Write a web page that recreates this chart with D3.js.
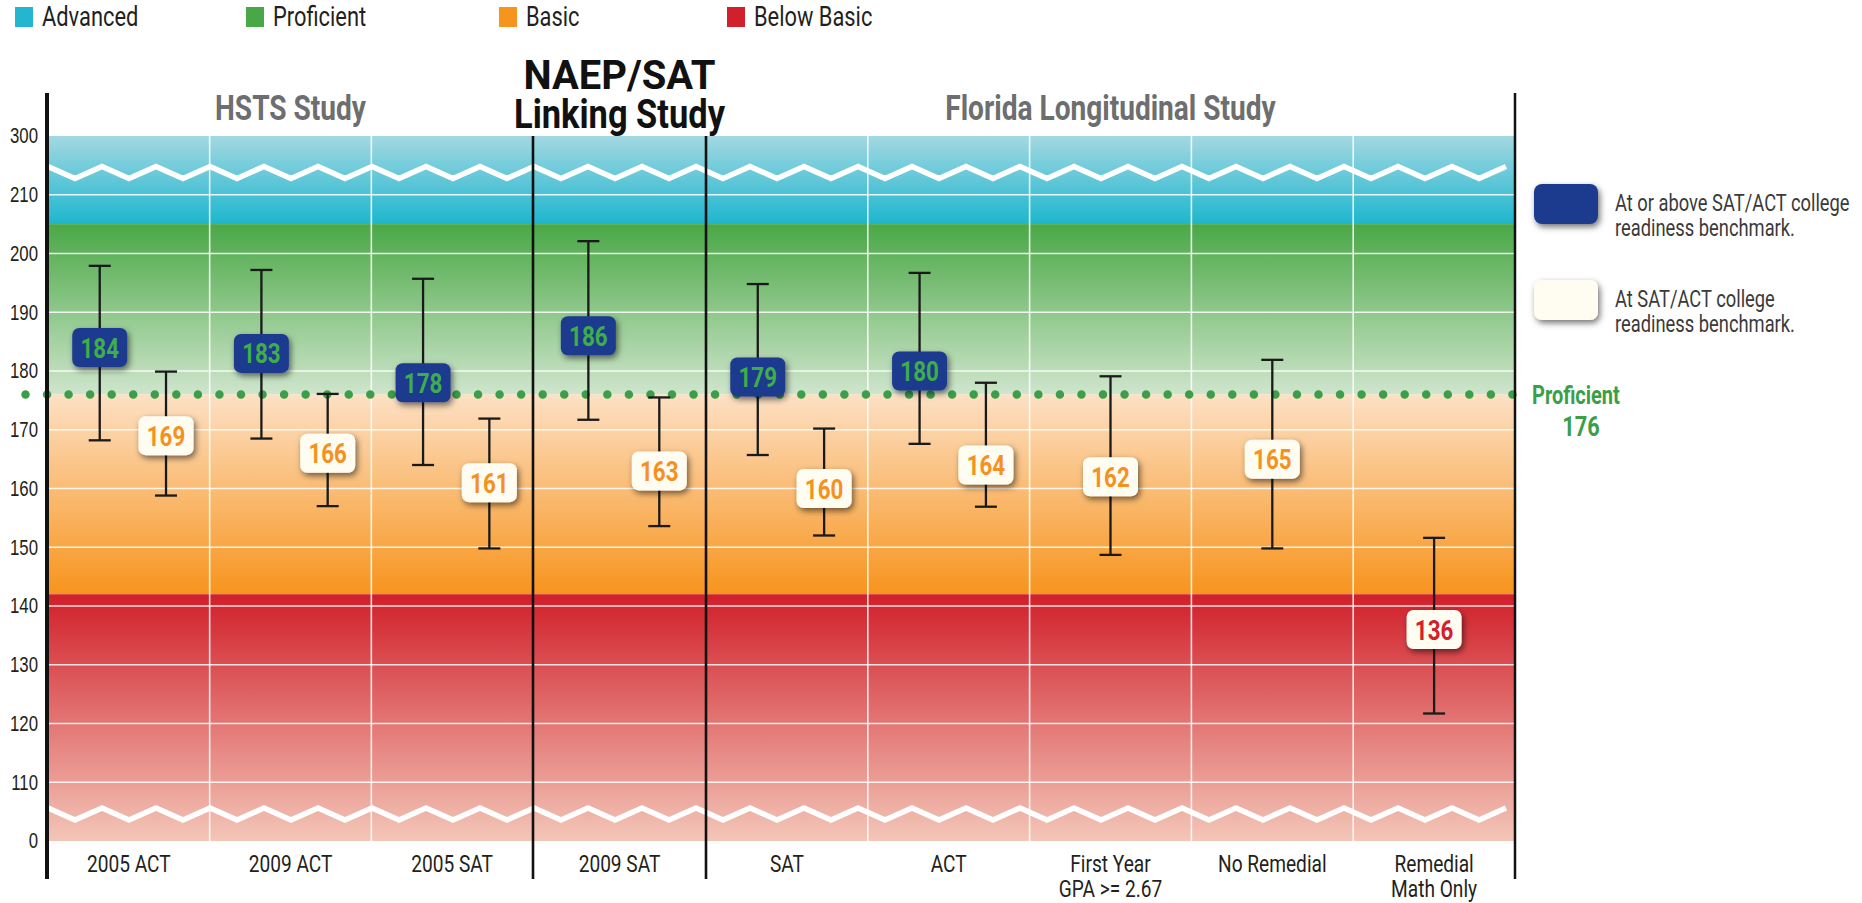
<!DOCTYPE html>
<html><head><meta charset="utf-8">
<script src="https://cdn.jsdelivr.net/npm/d3@7/dist/d3.min.js"></script>
<style>
body{margin:0;background:#fff;}
svg{display:block;font-family:Roboto,"Noto Sans",sans-serif;}
</style></head><body>
<svg id="chart" width="1862" height="903"></svg>
<script>
// ---------------- data ----------------
const categories = ["2005 ACT","2009 ACT","2005 SAT","2009 SAT","SAT","ACT","First Year|GPA >= 2.67","No Remedial","Remedial|Math Only"];
const groupTitles = [["HSTS Study"],["NAEP/SAT","Linking Study"],["Florida Longitudinal Study"]];
const groupFirst = [0,3,4];
const groupLast  = [3,4,9];

// at or above benchmark (navy boxes)
const aboveCats = ["2005 ACT","2009 ACT","2005 SAT","2009 SAT","SAT","ACT"];
const aboveVals = [184,183,178,186,179,180];
const aboveLow  = [168.2,168.5,164.0,171.7,165.7,167.6];
const aboveHigh = [197.9,197.2,195.7,202.1,194.8,196.7];

// at benchmark (cream boxes)
const atCats = ["2005 ACT","2009 ACT","2005 SAT","2009 SAT","SAT","ACT","First Year|GPA >= 2.67","No Remedial","Remedial|Math Only"];
const atVals = [169,166,161,163,160,164,162,165,136];
const atLow  = [158.8,157.0,149.8,153.6,152.0,156.9,148.7,149.8,121.7];
const atHigh = [179.9,176.1,171.9,175.5,170.2,178.0,179.1,181.9,151.6];

// achievement level bands
const levelNames = ["Advanced","Proficient","Basic","Below Basic"];
const levelLow   = [205,176,142,100];
const levelHigh  = [220,205,176,142];

const proficientCut = 176;
const tickVals   = [100,110,120,130,140,150,160,170,180,190,200,210,220];
const tickLabels = ["0","110","120","130","140","150","160","170","180","190","200","210","300"];
const breakVals  = [213.8,104.6];

// ---------------- styles ----------------
const levelSwatch = ["#22b6cf","#47a845","#f7941d","#d21f2c"];
const levelTop    = ["#a3d8e2","#4aa846","#fde0c4","#d11f2a"];
const levelBottom = ["#1db6cd","#cfe5cc","#f7941d","#f3c6b8"];
const navy = "#1c3b8e", boxGreen = "#3fae4a", cream = "#fffdf2", boxOrange = "#f6901e", boxRed = "#d3202c";
const dotGreen = "#3b9e48";
const SX = 0.78; // horizontal condensing of type

const svg = d3.select("#chart");
const plotL = 48, plotR = 1515, plotT = 136, plotB = 841;

const x = d3.scaleLinear().domain([0,3,4,9]).range([plotL,533,706,plotR]);
const y = d3.scaleLinear().domain([100,220]).range([plotB,plotT]);
const catIndex = new Map(categories.map((c,i)=>[c,i]));

// condensed text helper
function ctext(parent, tx, ty, lines, o) {
  const t = parent.append("text")
    .attr("transform",`translate(${tx},${ty}) scale(${o.sx||SX},1)`)
    .attr("font-size",o.size).attr("fill",o.fill||"#231f20")
    .attr("text-anchor",o.anchor||"start");
  if (o.bold) t.attr("font-weight","bold");
  [].concat(lines).forEach((l,j)=>t.append("tspan").attr("x",0).attr("y",j*(o.lh||0)).text(l));
  return t;
}

const defs = svg.append("defs");
levelNames.forEach((n,i)=>{
  const g = defs.append("linearGradient").attr("id","lg"+i)
    .attr("gradientUnits","userSpaceOnUse")
    .attr("x1",0).attr("x2",0).attr("y1",y(levelHigh[i])).attr("y2",y(levelLow[i]));
  g.append("stop").attr("offset","0%").attr("stop-color",levelTop[i]);
  g.append("stop").attr("offset","100%").attr("stop-color",levelBottom[i]);
});
const f = defs.append("filter").attr("id","shadow").attr("x","-40%").attr("y","-40%").attr("width","180%").attr("height","190%");
f.append("feDropShadow").attr("dx",2).attr("dy",3).attr("stdDeviation",3).attr("flood-color","#000").attr("flood-opacity",0.55);

// ---------------- bands ----------------
svg.append("g").selectAll("rect").data(levelNames).join("rect")
  .attr("x",plotL).attr("width",plotR-plotL)
  .attr("y",(d,i)=>y(levelHigh[i])).attr("height",(d,i)=>y(levelLow[i])-y(levelHigh[i]))
  .attr("fill",(d,i)=>`url(#lg${i})`);

// gridlines
const grid = svg.append("g").attr("stroke","#fff").attr("stroke-opacity",0.85).attr("stroke-width",1.6);
grid.selectAll("line.h").data(tickVals.filter(v=>v>100 && v<220)).join("line").attr("class","h")
  .attr("x1",plotL).attr("x2",plotR).attr("y1",d=>y(d)).attr("y2",d=>y(d));
const innerBounds = d3.range(1,9).filter(i=>!groupFirst.includes(i));
grid.selectAll("line.v").data(innerBounds).join("line").attr("class","v")
  .attr("x1",d=>x(d)).attr("x2",d=>x(d)).attr("y1",plotT).attr("y2",plotB);

// axis break zigzags
breakVals.forEach(v=>{
  const pts = [];
  for (let px = plotL, k = 0; px <= plotR + 10; px += 27, k++) pts.push([Math.min(px, plotR + 6), y(v) + (k%2 ? 6 : -6)]);
  svg.append("path").attr("d", d3.line()(pts)).attr("fill","none").attr("stroke","#fff")
    .attr("stroke-width",5.5).attr("stroke-linejoin","miter");
});

// proficient dotted line
svg.append("line").attr("x1",25.5).attr("x2",1518).attr("y1",y(proficientCut)).attr("y2",y(proficientCut))
  .attr("stroke",dotGreen).attr("stroke-width",8.5).attr("stroke-linecap","round").attr("stroke-dasharray","0 21.55");

// frame lines
const frame = svg.append("g").attr("stroke","#111");
frame.append("line").attr("x1",47).attr("x2",47).attr("y1",93).attr("y2",879).attr("stroke-width",4);
frame.append("line").attr("x1",x(9)).attr("x2",x(9)).attr("y1",93).attr("y2",879).attr("stroke-width",2.5);
frame.selectAll("line.div").data([3,4]).join("line").attr("class","div")
  .attr("x1",d=>x(d)).attr("x2",d=>x(d)).attr("y1",plotT).attr("y2",879).attr("stroke-width",2.6);

// y axis
const yAxis = d3.axisLeft(y).tickValues(tickVals).tickFormat((d,i)=>tickLabels[i]).tickSize(0).tickPadding(10);
const ga = svg.append("g").attr("transform",`translate(${plotL},0)`).call(yAxis);
ga.select(".domain").remove();
ga.selectAll("text").attr("font-size",21.5).attr("fill","#231f20").style("font-family","inherit")
  .attr("transform",`scale(${SX},1)`).attr("x",-10/SX);

// category labels
const catG = svg.append("g");
categories.forEach((c,i)=>{
  ctext(catG,(x(i)+x(i+1))/2,872,c.split("|"),{size:24.5,anchor:"middle",lh:25});
});

// group titles
groupTitles.forEach((lines,gi)=>{
  const cx = (x(groupFirst[gi])+x(groupLast[gi]))/2;
  if (lines.length === 1) ctext(svg,cx,120,lines,{size:36,bold:true,anchor:"middle",fill:"#6d6e70"});
  else {
    const t = svg.append("text").attr("transform",`translate(${cx},89)`).attr("text-anchor","middle")
      .attr("font-size",41).attr("font-weight","bold").attr("fill","#111");
    const lens = [192,211];
    lines.forEach((l,j)=>t.append("tspan").attr("x",0).attr("y",j*39)
      .attr("textLength",lens[j]).attr("lengthAdjust","spacingAndGlyphs").text(l));
  }
});

// ---------------- error bars and boxes ----------------
function colCenter(cat, series) {
  const i = catIndex.get(cat);
  const paired = aboveCats.includes(cat);
  const frac = paired ? (series === "above" ? 0.32 : 0.73) : 0.5;
  return x(i) + (x(i+1)-x(i))*frac;
}
const boxW = 55, boxH = 39, capW = 22;
function drawSeries(cats, vals, lo, hi, series) {
  const data = cats.map((c,i)=>({c, v:vals[i], lo:lo[i], hi:hi[i], cx:colCenter(c,series)}));
  const g = svg.append("g");
  const eb = g.append("g").attr("stroke","#1a1a1a").attr("stroke-width",2.3);
  eb.selectAll("line.s").data(data).join("line").attr("class","s")
    .attr("x1",d=>d.cx).attr("x2",d=>d.cx).attr("y1",d=>y(d.hi)).attr("y2",d=>y(d.lo));
  eb.selectAll("line.t").data(data).join("line").attr("class","t")
    .attr("x1",d=>d.cx-capW/2).attr("x2",d=>d.cx+capW/2).attr("y1",d=>y(d.hi)).attr("y2",d=>y(d.hi));
  eb.selectAll("line.b").data(data).join("line").attr("class","b")
    .attr("x1",d=>d.cx-capW/2).attr("x2",d=>d.cx+capW/2).attr("y1",d=>y(d.lo)).attr("y2",d=>y(d.lo));
  g.selectAll("rect").data(data).join("rect")
    .attr("x",d=>d.cx-boxW/2).attr("y",d=>y(d.v)-boxH/2).attr("width",boxW).attr("height",boxH)
    .attr("rx",7).attr("fill",series==="above"?navy:cream).attr("filter","url(#shadow)");
  g.selectAll("text").data(data).join("text")
    .attr("transform",d=>`translate(${d.cx},${y(d.v)}) scale(0.8,1)`)
    .attr("dy","0.36em").attr("text-anchor","middle")
    .attr("font-size",28).attr("font-weight","bold")
    .attr("fill",d=>series==="above"?boxGreen:(d.v<levelLow[2]?boxRed:boxOrange))
    .text(d=>d.v);
}
drawSeries(aboveCats, aboveVals, aboveLow, aboveHigh, "above");
drawSeries(atCats, atVals, atLow, atHigh, "at");

// ---------------- top legend ----------------
const legX = [15,246,499,727];
const lg = svg.append("g");
levelNames.forEach((n,i)=>{
  lg.append("rect").attr("x",legX[i]).attr("y",7).attr("width",18).attr("height",20).attr("fill",levelSwatch[i]);
  ctext(lg,legX[i]+27,26,n,{size:27,sx:0.81});
});

// ---------------- right legend ----------------
const rl = svg.append("g");
const rItems = [{fill:navy, y:184, lines:["At or above SAT/ACT college","readiness benchmark."]},
                {fill:cream, y:280, lines:["At SAT/ACT college","readiness benchmark."]}];
rItems.forEach(it=>{
  rl.append("rect").attr("x",1534).attr("y",it.y).attr("width",64).attr("height",40).attr("rx",8)
    .attr("fill",it.fill).attr("filter","url(#shadow)");
  ctext(rl,1615,it.y+27,it.lines,{size:23.5,fill:"#3a3a3a",lh:25});
});
ctext(rl,1532,y(proficientCut)+9,"Proficient",{size:25,bold:true,fill:dotGreen,sx:0.8});
ctext(rl,1581,y(proficientCut)+41,String(proficientCut),{size:28,bold:true,fill:dotGreen,anchor:"middle"});
</script>
</body></html>
